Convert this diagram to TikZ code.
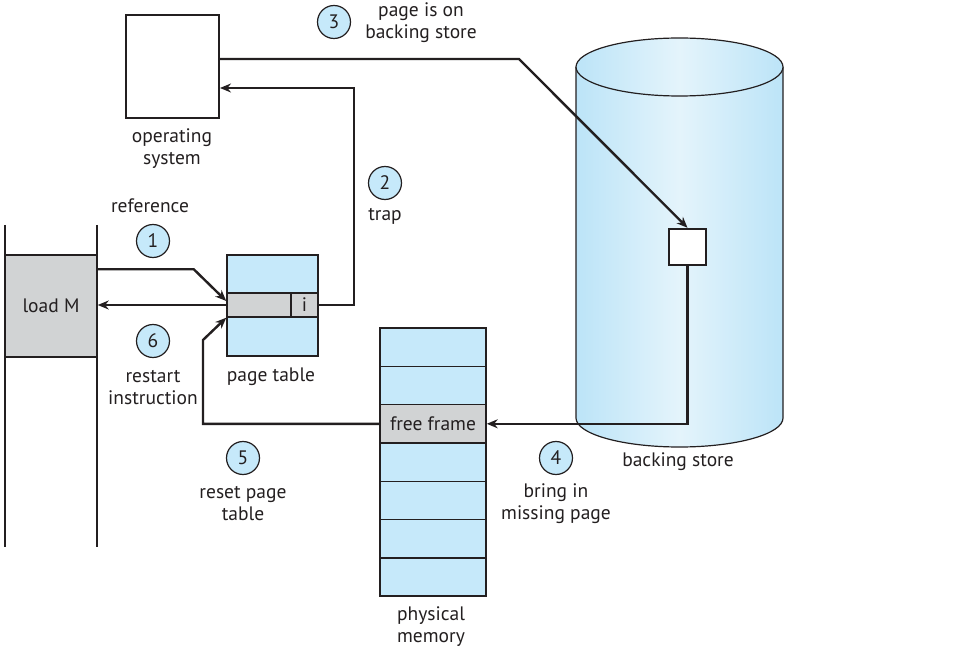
\documentclass[tikz,border=0pt]{standalone}
\usepackage{fontspec}
\setmainfont{PT Sans}
\usetikzlibrary{arrows.meta}
\definecolor{pgblue}{RGB}{198,233,250}
\definecolor{pggray}{RGB}{209,211,212}
\definecolor{ink}{RGB}{35,31,32}
\definecolor{cylblue}{RGB}{188,228,248}
\definecolor{cyllight}{RGB}{228,244,251}
\begin{document}
\begin{tikzpicture}[x=1pt, y=-1pt, every node/.style={font=\fontsize{19.5}{22}\selectfont, text=ink, align=center},
	box/.style={draw=ink, line width=1.5pt, inner sep=0pt},
	num/.style={circle, draw=ink, line width=1.2pt, fill=pgblue, minimum size=33pt, inner sep=0pt},
	conn/.style={draw=ink, line width=2.4pt, -{Stealth[length=11pt,width=9pt]}}]
			\useasboundingbox (0,0) rectangle (970,647);

			% Backing store
			\shade[left color=cylblue, right color=cylblue, middle color=cyllight] (576,67) -- (576,418) arc[start angle=180, end angle=360, x radius=103.5pt, y radius=29pt] -- (783,67) -- cycle;
			\draw[ink, line width=1.2pt] (576,67) -- (576,418) arc[start angle=180, end angle=360, x radius=103.5pt, y radius=29pt] -- (783,67);
			\shade[left color=cylblue, right color=cylblue, middle color=cyllight] (679.5,67) ellipse (103.5pt and 29pt);
			\draw[ink, line width=1.2pt] (679.5,67) ellipse (103.5pt and 29pt);
			\node[box, fill=white, line width=2.4pt, minimum width=37pt, minimum height=36pt] (blk) at (687.5,247) {};
			\node (bslbl) at (678,462) {backing store};

			% Operating system
			\node[box, fill=white, line width=2pt, minimum width=93pt, minimum height=103pt] (os) at (172.5,66.5) {};
			\node (oslbl) at (172,149) {operating\\system};

			% Process
			\draw[ink, line width=1.2pt] (5,225) -- (5,547);
			\draw[ink, line width=1.2pt] (97,225) -- (97,547);
			\node[box, fill=pggray, minimum width=92pt, minimum height=102pt] (lm) at (51,306) {load M};

			% Page table
			\node[box, fill=pgblue, minimum width=91pt, minimum height=101pt] (pt) at (272.5,305.5) {};
			\node[box, fill=pggray, minimum width=91pt, minimum height=24pt] (row) at (272.5,305) {};
			\node[box, fill=pggray, minimum width=27pt, minimum height=24pt] (icell) at (304.5,305) {i};
			\node (ptlbl) at (271,377) {page table};

			% Physical memory
			\foreach \i in {0,...,6}
				\node[box, fill=pgblue, minimum width=106pt, minimum height=38.3pt] (m\i) at (433,347.2+38.3*\i) {};
			\node[box, fill=pggray, minimum width=106pt, minimum height=38.3pt] (ff) at (m2) {free frame};
			\node (pmlbl) at (431,627) {physical\\memory};

			% Steps
			\draw[conn] ([yshift=-15pt]lm.north east) -- ++(96,0) -- ([yshift=4pt]row.west);
			\draw[conn] (icell.east) -- ++(35,0) |- ([yshift=-21.5pt]os.east);
			\draw[conn] ([yshift=7.5pt]os.east) -- (519,59) -- (blk.north);
			\draw[conn] (blk.south) |- (ff.east);
			\draw[conn] (ff.west) -| (203,340) -- (row.south west);
			\draw[conn] (row.west) -- (row.west -| lm.east);

			% Step labels
			\node[num] (n1) at (153,241) {1};
			\node (l1) at (150,206) {reference};
			\node[num] (n2) at (385,183) {2};
			\node (l2) at (385,216) {trap};
			\node[num] (n3) at (334,22) {3};
			\node (l3) at (421,23) {page is on\\backing store};
			\node[num] (n4) at (556,458) {4};
			\node (l4) at (556,504) {bring in\\missing page};
			\node[num] (n5) at (243,458) {5};
			\node (l5) at (243,504) {reset page\\table};
			\node[num] (n6) at (153,341) {6};
			\node (l6) at (153,388) {restart\\instruction};
		\end{tikzpicture}
\end{document}
